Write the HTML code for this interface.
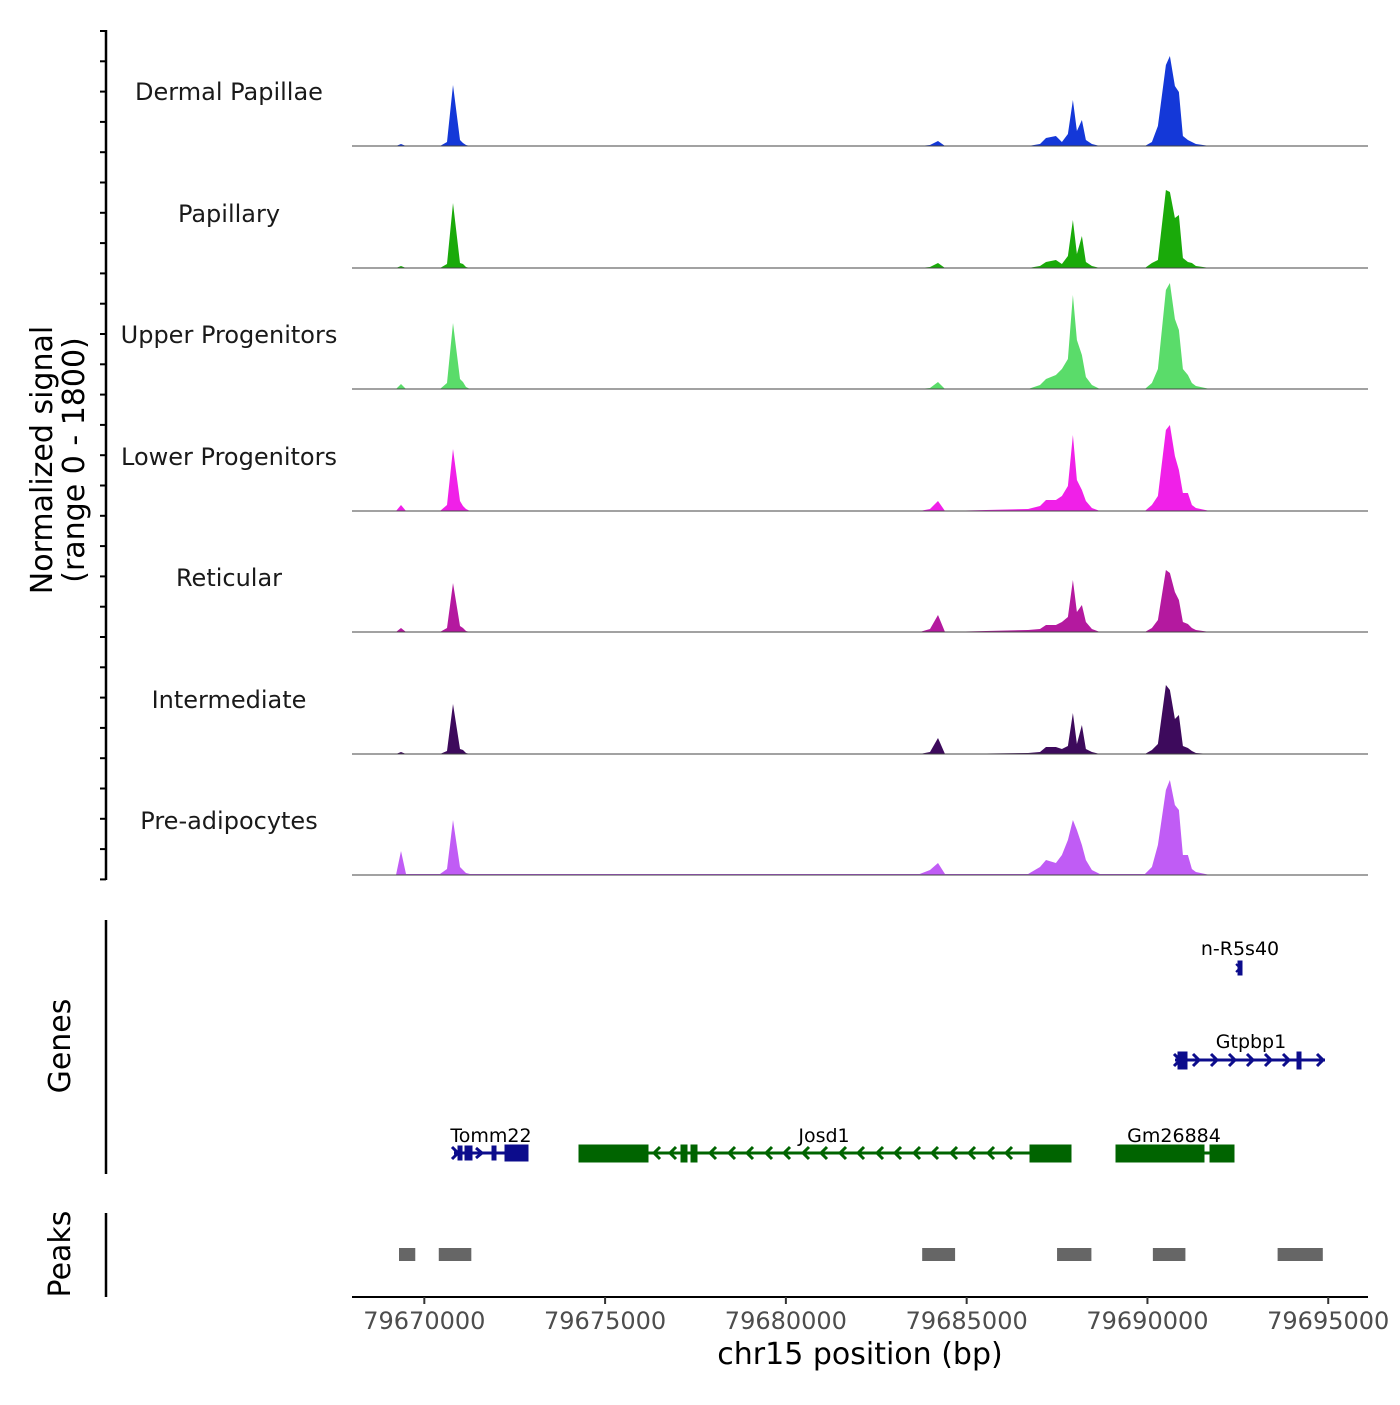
<!DOCTYPE html>
<html><head><meta charset="utf-8"><style>
body{margin:0;background:#fff}
svg{font-family:"DejaVu Sans","Liberation Sans",sans-serif}
</style></head><body>
<svg id="c" width="1400" height="1400" viewBox="0 0 1400 1400">
<g id="tracks"></g>
<g id="genes"></g>
<g id="peaks"></g>
<g id="axes"></g>
</svg>
<script>
const positions=[79668000,79669217,79669355,79669493,79670434,79670627,79670793,79670987,79671070,79671153,79671263,79683700,79683985,79684206,79684400,79686700,79687027,79687193,79687469,79687635,79687801,79687939,79688050,79688188,79688299,79688465,79688686,79689930,79690124,79690290,79690511,79690622,79690760,79690871,79690981,79691120,79691230,79691341,79691728,79696100];
const trackNames=["Dermal Papillae","Papillary","Upper Progenitors","Lower Progenitors","Reticular","Intermediate","Pre-adipocytes"];
const trackColors=["#1438d8","#1aaa0a","#5adc6a","#f020e8","#b4199f","#3d0a5c","#c05cf5"];
const sigDP=[0,0,30,0,0,60,915,90,45,15,0,0,15,75,0,0,30,120,150,60,180,690,225,390,90,30,0,0,60,300,1215,1350,900,810,150,90,60,30,0,0];
const sigPap=[0,0,30,0,0,60,975,75,60,15,0,0,15,75,0,0,30,90,120,60,180,720,210,480,90,30,0,0,75,120,1170,1140,750,795,150,90,75,30,0,0];
const sigUpper=[0,0,75,0,0,90,990,150,105,30,0,0,15,105,0,0,60,150,210,300,450,1410,735,510,180,60,0,0,90,300,1485,1590,1050,885,300,210,90,45,0,0];
const sigLower=[0,0,90,0,0,90,930,150,75,30,0,0,30,150,0,30,75,165,165,225,375,1140,465,315,150,45,0,0,90,225,1215,1290,825,615,270,270,90,45,0,0];
const sigRet=[0,0,60,0,0,60,735,90,60,15,0,0,45,255,0,30,45,105,105,150,225,780,300,405,150,45,0,0,60,180,930,885,600,480,150,120,60,30,0,0];
const sigInt=[0,0,30,0,0,45,750,75,60,15,0,0,30,240,0,15,30,105,105,75,120,615,150,435,75,30,0,0,60,150,1035,960,525,585,120,90,45,15,0,0];
const sigPre=[0,0,360,15,15,90,825,120,75,30,15,15,75,180,15,15,120,225,180,300,525,825,675,450,225,75,15,15,120,450,1275,1425,1050,975,300,300,90,45,0,0];
const signals=[sigDP,sigPap,sigUpper,sigLower,sigRet,sigInt,sigPre];
const xTicks=[79670000,79675000,79680000,79685000,79690000,79695000];
const peakStarts=[79669300,79670400,79683770,79687500,79690150,79693600];
const peakEnds=[79669750,79671300,79684680,79688450,79691050,79694850];

const NS="http://www.w3.org/2000/svg";
const X0=352,X1=1368,D0=79668000,D1=79696100;
function xs(bp){return X0+(bp-D0)/(D1-D0)*(X1-X0);}
const baselines=[146,268,389,511,632,754,875];
function ys(v,b){return b-v/1800*120;}
function mk(tag,attrs,parent,text){const e=document.createElementNS(NS,tag);for(const k in attrs)e.setAttribute(k,attrs[k]);if(text!==undefined)e.textContent=text;parent.appendChild(e);return e;}
const T=document.getElementById('tracks');
signals.forEach((s,i)=>{
  const b=baselines[i];
  let d="M"+xs(positions[0])+","+b;
  s.forEach((v,j)=>{d+=" L"+xs(positions[j]).toFixed(1)+","+ys(v,b).toFixed(1);});
  d+=" L"+xs(positions[positions.length-1])+","+b+" Z";
  const p=mk('path',{d:d,fill:trackColors[i]},T);
  
  
  const l=mk('line',{x1:X0,x2:X1,y1:b,y2:b,stroke:"#444","stroke-width":1},T);
  
  
  const t=mk('text',{x:229,y:b-46,"text-anchor":"middle","font-size":24,fill:"#1a1a1a"},T,trackNames[i]);
  
  
});
const P=document.getElementById('peaks');
peakStarts.forEach((s,i)=>{
  const r=mk('rect',{x:xs(s),y:1248,width:xs(peakEnds[i])-xs(s),height:13,fill:"#666"},P);
  
  
});
const A=document.getElementById('axes');
let ad=`<line x1="106" y1="30" x2="106" y2="880" stroke="#000" stroke-width="2.5"/>`;
for(let y=31;y<=880;y+=30.3)ad+=`<line x1="100" x2="106" y1="${y.toFixed(1)}" y2="${y.toFixed(1)}" stroke="#000" stroke-width="2"/>`;
ad+=`<line x1="106" y1="920" x2="106" y2="1174" stroke="#000" stroke-width="2.5"/>`;
ad+=`<line x1="106" y1="1213" x2="106" y2="1297" stroke="#000" stroke-width="2.5"/>`;
ad+=`<line x1="352" y1="1297" x2="1368" y2="1297" stroke="#000" stroke-width="2"/>`;
A.innerHTML=ad;
xTicks.forEach(t=>{
  const l=mk('line',{x1:xs(t),x2:xs(t),y1:1297,y2:1304,stroke:"#333","stroke-width":2},A);
  
  
  const tx=mk('text',{x:xs(t),y:1329,"text-anchor":"middle","font-size":24,fill:"#4d4d4d"},A,String(t));
  
  
});
</script>
<svg width="1400" height="1400" style="position:absolute;left:0;top:0">
<g font-family="DejaVu Sans, Liberation Sans, sans-serif">
<text x="860" y="1364" text-anchor="middle" font-size="30" fill="#000">chr15 position (bp)</text>
<g transform="translate(52,460) rotate(-90)"><text text-anchor="middle" font-size="30" y="0">Normalized signal</text><text text-anchor="middle" font-size="30" y="32">(range 0 - 1800)</text></g>
<text transform="translate(70,1046) rotate(-90)" text-anchor="middle" font-size="30">Genes</text>
<text transform="translate(70,1254) rotate(-90)" text-anchor="middle" font-size="30">Peaks</text>
<g stroke="#0c0c8c" fill="#0c0c8c">
<line x1="454" y1="1153" x2="528" y2="1153" stroke-width="3"/>
<rect x="458" y="1146" width="4" height="14"/><rect x="465" y="1146" width="7" height="14"/><rect x="492" y="1146" width="4" height="14"/><rect x="505" y="1145" width="23" height="16"/>
<path d="M452 1147 L458 1153 L452 1159 M476 1148 L482 1153 L476 1158" fill="none" stroke-width="3"/>
<text x="491" y="1142" text-anchor="middle" font-size="19" fill="#000" stroke="none">Tomm22</text>
</g>
<g stroke="#006400" fill="#006400">
<line x1="579" y1="1153" x2="1071" y2="1153" stroke-width="3"/>
<rect x="579" y="1145" width="69" height="17"/><rect x="681" y="1145" width="6" height="17"/><rect x="691" y="1145" width="6" height="17"/><rect x="1030" y="1145" width="41" height="17"/>
<path d="M660 1147 L654 1153 L660 1159 M676 1147 L670 1153 L676 1159 M716 1147 L710 1153 L716 1159 M735 1147 L729 1153 L735 1159 M753 1147 L747 1153 L753 1159 M772 1147 L766 1153 L772 1159 M790 1147 L784 1153 L790 1159 M809 1147 L803 1153 L809 1159 M827 1147 L821 1153 L827 1159 M846 1147 L840 1153 L846 1159 M864 1147 L858 1153 L864 1159 M883 1147 L877 1153 L883 1159 M901 1147 L895 1153 L901 1159 M920 1147 L914 1153 L920 1159 M938 1147 L932 1153 L938 1159 M957 1147 L951 1153 L957 1159 M975 1147 L969 1153 L975 1159 M994 1147 L988 1153 L994 1159 M1012 1147 L1006 1153 L1012 1159" fill="none" stroke-width="3"/>
<text x="824" y="1142" text-anchor="middle" font-size="19" fill="#000" stroke="none">Josd1</text>
</g>
<g stroke="#006400" fill="#006400">
<line x1="1116" y1="1153" x2="1234" y2="1153" stroke-width="3"/>
<rect x="1116" y="1145" width="88" height="17"/><rect x="1210" y="1145" width="24" height="17"/>
<text x="1174" y="1142" text-anchor="middle" font-size="19" fill="#000" stroke="none">Gm26884</text>
</g>
<g stroke="#0c0c8c" fill="#0c0c8c">
<line x1="1175" y1="1060" x2="1325" y2="1060" stroke-width="3"/>
<rect x="1178" y="1052" width="9" height="17"/><rect x="1297" y="1052" width="4" height="17"/>
<path d="M1174 1054 L1180 1060 L1174 1066 M1193 1054 L1199 1060 L1193 1066 M1211 1054 L1217 1060 L1211 1066 M1229 1054 L1235 1060 L1229 1066 M1247 1054 L1253 1060 L1247 1066 M1265 1054 L1271 1060 L1265 1066 M1283 1054 L1289 1060 L1283 1066 M1317 1054 L1323 1060 L1317 1066" fill="none" stroke-width="3"/>
<text x="1251" y="1048" text-anchor="middle" font-size="19" fill="#000" stroke="none">Gtpbp1</text>
</g>
<g stroke="#0c0c8c" fill="#0c0c8c">
<rect x="1238" y="961" width="4" height="14"/>
<path d="M1236 964 L1240 968 L1236 972" fill="none" stroke-width="2"/>
<text x="1240" y="955" text-anchor="middle" font-size="19" fill="#000" stroke="none">n-R5s40</text>
</g>
</g>
</svg>
</body></html>
